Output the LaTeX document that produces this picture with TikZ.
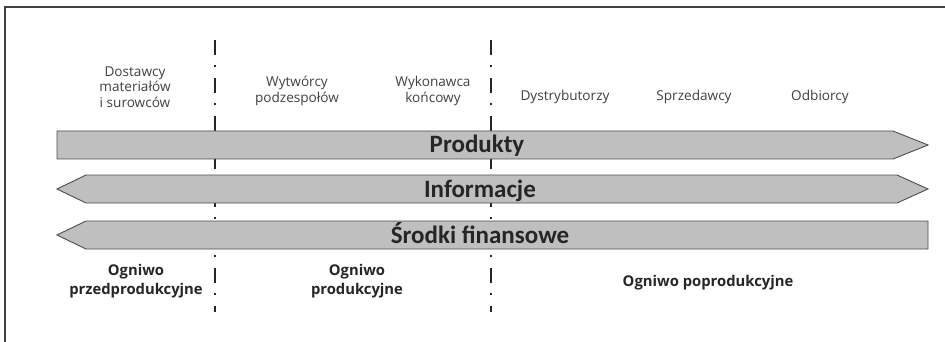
\documentclass[tikz,border=0pt]{standalone}
\usepackage{fontspec}
\setmainfont{Open Sans}
\newfontfamily\barfont{Carlito}
\begin{document}
\begin{tikzpicture}[
        x=1pt, y=-1pt,
        label_top/.style={align=center, font=\fontsize{13.6}{15.5}\selectfont, text=black!75, inner sep=0pt},
        label_bot/.style={align=center, font=\fontsize{14.8}{19}\selectfont\bfseries, text=black!85, inner sep=0pt},
        flow/.style={draw=black!70, line width=0.9pt, fill=black!25},
        flow_text/.style={font=\barfont\fontsize{25}{30}\selectfont\bfseries, text=black!85, inner sep=0pt, anchor=base},
        divider/.style={line width=2pt, black!85, dash pattern=on 15pt off 10pt on 2pt off 11pt}
    ]

        \useasboundingbox (0,0) rectangle (945,342);
        \draw[black!75, line width=1.8pt] (5,342) -- (5,7) -- (945,7);

        % podzial na ogniwa
        \coordinate (d1_top) at (215,40);
        \coordinate (d1_bot) at (215,312);
        \coordinate (d2_top) at (491,40);
        \coordinate (d2_bot) at (491,312);
        \draw[divider] (d1_top) -- (d1_bot);
        \draw[divider] (d2_top) -- (d2_bot);

        \node[label_top] (dostawcy)   at (135,87) {Dostawcy\\materiałów\\i surowców};
        \node[label_top] (wytworcy)   at (297,91) {Wytwórcy\\podzespołów};
        \node[label_top] (wykonawca)  at (433,91) {Wykonawca\\końcowy};
        \node[label_top] (dystryb)    at (565,97) {Dystrybutorzy};
        \node[label_top] (sprzedawcy) at (694,97) {Sprzedawcy};
        \node[label_top] (odbiorcy)   at (820,97) {Odbiorcy};

        % przeplywy
        \draw[flow] (57,131) -- (893,131) -- (928,145) -- (893,159) -- (57,159) -- cycle;
        \draw[flow] (57,189) -- (86,175) -- (897,175) -- (928,189) -- (897,203) -- (86,203) -- cycle;
        \draw[flow] (57,235) -- (86,221) -- (928,221) -- (928,249) -- (86,249) -- cycle;

        \node[flow_text] (produkty)   at (477,153) {Produkty};
        \node[flow_text] (informacje) at (480,197) {Informacje};
        \node[flow_text] (srodki)     at (480,243) {Środki finansowe};

        \node[label_bot] (przedprod) at (136,281) {Ogniwo\\przedprodukcyjne};
        \node[label_bot] (prod)      at (357,281) {Ogniwo\\produkcyjne};
        \node[label_bot] (poprod)    at (708,283) {Ogniwo poprodukcyjne};

    \end{tikzpicture}
\end{document}
